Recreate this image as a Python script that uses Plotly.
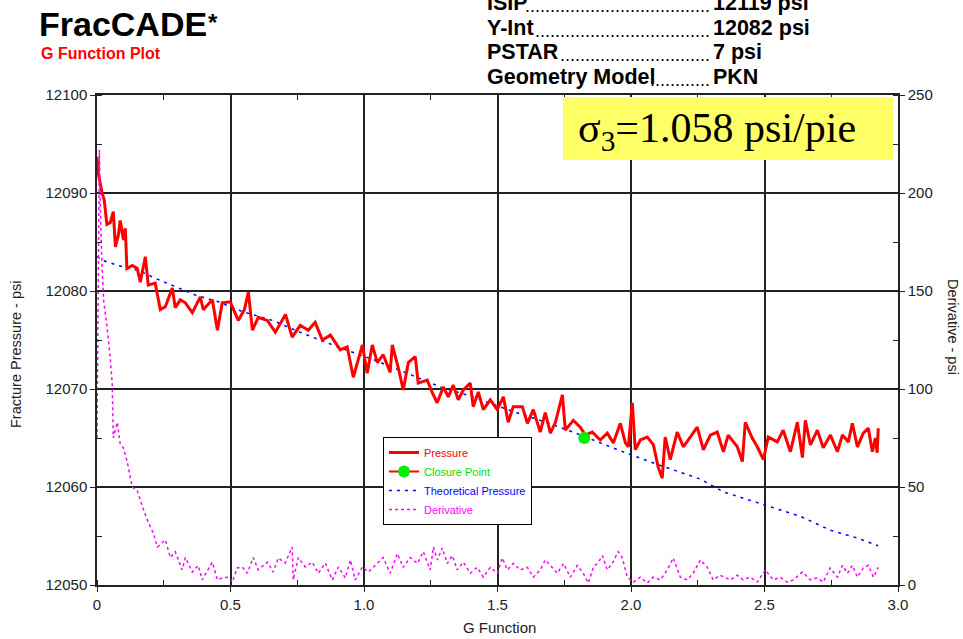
import plotly.graph_objects as go

# ---- data ----
pressure_g = [0.000,0.005,0.019,0.027,0.037,0.050,0.061,0.069,0.080,0.087,0.099,0.106,0.112,0.132,0.151,0.162,0.181,0.192,0.218,0.237,
              0.256,0.282,0.293,0.312,0.331,0.357,0.387,0.398,0.432,0.451,0.469,0.499,0.529,0.552,0.567,0.582,0.604,0.638,0.668,0.706,
              0.731,0.761,0.791,0.817,0.844,0.874,0.911,0.937,0.960,0.994,1.012,1.031,1.050,1.072,1.098,1.106,1.128,1.147,1.166,1.192,
              1.203,1.237,1.256,1.274,1.297,1.316,1.334,1.353,1.372,1.398,1.409,1.428,1.447,1.473,1.499,1.522,1.540,1.559,1.593,1.612,
              1.634,1.660,1.679,1.698,1.717,1.743,1.754,1.784,1.810,1.829,1.855,1.885,1.911,1.934,1.960,1.979,1.990,2.005,2.016,2.035,
              2.061,2.084,2.102,2.117,2.128,2.147,2.173,2.196,2.222,2.248,2.271,2.297,2.323,2.346,2.364,2.398,2.417,2.428,2.454,2.473,
              2.496,2.514,2.548,2.570,2.597,2.623,2.642,2.653,2.672,2.698,2.720,2.747,2.773,2.792,2.814,2.829,2.848,2.870,2.889,2.904,
              2.915,2.922,2.926]
pressure_psi = [12093.7,12092.0,12090.0,12089.3,12086.8,12087.0,12088.1,12084.5,12085.7,12087.2,12085.2,12086.4,12082.3,12082.6,12082.3,12080.9,12083.5,12080.6,12080.8,12078.1,
                12078.4,12080.3,12078.3,12079.1,12078.8,12077.8,12079.4,12078.1,12079.1,12076.0,12078.8,12078.9,12077.0,12078.1,12079.9,12076.0,12077.3,12077.0,12075.8,12077.6,
                12075.3,12076.5,12076.0,12076.8,12075.0,12075.5,12074.0,12074.3,12071.2,12074.5,12071.6,12074.5,12072.7,12073.5,12071.7,12074.5,12072.2,12069.9,12072.7,12073.3,
                12070.6,12070.9,12069.6,12068.6,12070.2,12069.2,12070.4,12068.9,12069.9,12070.6,12068.2,12069.7,12067.9,12068.9,12067.9,12069.2,12066.6,12068.2,12068.2,12066.5,
                12067.9,12065.6,12067.6,12065.5,12066.6,12069.4,12065.8,12066.8,12066.1,12065.3,12065.6,12064.8,12065.5,12064.5,12066.5,12064.5,12064.1,12068.6,12063.8,12064.8,
                12065.1,12064.3,12062.0,12060.9,12065.1,12062.8,12065.6,12064.1,12065.1,12066.1,12063.8,12065.3,12065.6,12063.6,12065.3,12064.1,12062.6,12066.6,12065.0,12064.1,
                12062.8,12065.1,12064.6,12065.8,12063.6,12066.6,12063.0,12066.8,12064.3,12065.8,12064.0,12065.3,12063.6,12065.3,12064.6,12066.5,12064.1,12065.5,12066.0,12063.6,
                12065.0,12063.5,12066.0]

closure_g = [1.825]
closure_psi = [12065.0]

theory_g = [0.000,0.024,0.080,0.155,0.218,0.282,0.368,0.454,0.544,0.657,0.769,0.911,1.035,1.162,1.286,1.409,1.537,1.660,1.784,1.885,
            1.998,2.110,2.260,2.346,2.500,2.635,2.746,2.847,2.926]
theory_psi = [12083.5,12083.1,12082.6,12082.1,12081.3,12080.6,12079.6,12078.9,12077.9,12077.0,12075.7,12074.2,12073.0,12071.6,12070.2,12069.2,12067.9,12066.8,12065.6,12064.5,
              12063.3,12062.2,12060.8,12059.5,12058.2,12057.0,12055.6,12054.8,12054.0]

deriv_g = [0.000,0.003,0.009,0.012,0.018,0.025,0.039,0.050,0.057,0.061,0.076,0.087,0.099,0.113,0.132,0.151,0.170,0.192,0.211,0.226,
           0.256,0.275,0.293,0.319,0.331,0.357,0.379,0.394,0.432,0.451,0.469,0.492,0.507,0.525,0.544,0.563,0.585,0.604,0.638,0.660,
           0.679,0.705,0.731,0.735,0.754,0.780,0.806,0.829,0.855,0.881,0.904,0.930,0.949,0.967,0.994,1.016,1.042,1.050,1.072,1.098,
           1.125,1.147,1.173,1.200,1.222,1.248,1.260,1.275,1.293,1.312,1.331,1.349,1.372,1.398,1.424,1.447,1.473,1.499,1.518,1.537,
           1.559,1.585,1.612,1.634,1.660,1.679,1.698,1.724,1.747,1.773,1.799,1.821,1.840,1.859,1.878,1.893,1.911,1.930,1.952,1.967,
           1.986,2.009,2.035,2.061,2.083,2.110,2.136,2.158,2.185,2.211,2.233,2.260,2.286,2.308,2.334,2.372,2.398,2.420,2.446,2.473,
           2.503,2.533,2.559,2.585,2.608,2.642,2.672,2.698,2.720,2.746,2.773,2.792,2.811,2.829,2.848,2.870,2.889,2.908,2.926]
deriv_psi = [75,140,222,195,165,145,130,115,103,75,83,72,70,63,50,48,40,32,26.5,19.4,
             23,14,17,7.7,14,6.6,10,2.6,11.7,2.6,3.6,4,1.5,8.7,9.2,6,14,7.7,11.7,6.6,
             13.8,11.2,19.4,2.6,14,9.2,11.7,6,11.2,2.6,9.2,3.6,12.8,2.6,9.2,6.6,10,11,14,6,
             16,9,14,11,17,7.7,19.4,12.8,18.9,11,15,7.7,11.7,6,9,4,9,6,13.8,7.7,
             11,7.7,9,4,7.7,12.8,10,6,11,4,10,6,1,9,11.7,15,7.7,11,17,14,
             4,1.5,4,1,4,2.6,7.7,13.8,4,2.6,6,12.8,9,2.6,5,2.6,5,2.6,4,1.5,
             7.7,2.6,4,1.5,2.6,6.6,2.6,3.6,1.5,8.7,4,10,6,10,4,8.7,10,4,9]

x_ticks = [0, 0.5, 1.0, 1.5, 2.0, 2.5, 3.0]
x_tick_text = ["0", "0.5", "1.0", "1.5", "2.0", "2.5", "3.0"]
left_ticks = [12050, 12060, 12070, 12080, 12090, 12100]
right_ticks = [0, 50, 100, 150, 200, 250]

info_labels = ["ISIP", "Y-Int", "PSTAR", "Geometry Model"]
info_values = ["12119 psi", "12082 psi", "7 psi", "PKN"]

# ---- geometry helpers (pixel -> paper) ----
L, R, T, B = 97, 65, 95, 54
W, H = 963, 639
PW, PH = W - L - R, H - T - B
def px(x):
    return (x - L) / PW
def py(y):
    return (H - B - y) / PH

FONT = "Arial, Liberation Sans, sans-serif"

fig = go.Figure()

fig.add_trace(go.Scatter(x=deriv_g, y=deriv_psi, yaxis="y2", mode="lines",
                         line=dict(color="#ff00ff", width=1.5, dash="3px,3px"),
                         name="<span style='color:#ff00ff'>Derivative</span>", legendrank=4))
fig.add_trace(go.Scatter(x=theory_g, y=theory_psi, mode="lines",
                         line=dict(color="#0000ff", width=1.5, dash="3px,5px"),
                         name="<span style='color:#0000ff'>Theoretical Pressure</span>", legendrank=3))
fig.add_trace(go.Scatter(x=pressure_g, y=pressure_psi, mode="lines",
                         line=dict(color="#ff0000", width=3),
                         name="<span style='color:#ff0000'>Pressure</span>", legendrank=1))
fig.add_trace(go.Scatter(x=closure_g, y=closure_psi, mode="lines+markers",
                         line=dict(color="#ff0000", width=2),
                         marker=dict(color="#00ee00", size=12, symbol="circle"),
                         name="<span style='color:#00dd00'>Closure Point</span>", legendrank=2))

# invisible trace to show the top axis
fig.add_trace(go.Scatter(x=[0, 3], y=[12100, 12100], xaxis="x2", mode="lines",
                         line=dict(width=0), showlegend=False, hoverinfo="skip"))

axis_font = dict(family=FONT, size=15, color="#222222")

fig.update_layout(
    width=W, height=H,
    margin=dict(l=L, r=R, t=T, b=B),
    paper_bgcolor="white", plot_bgcolor="white",
    font=axis_font,
    showlegend=True,
    legend=dict(x=px(383), y=py(437), xanchor="left", yanchor="top",
                bgcolor="white", bordercolor="black", borderwidth=1,
                font=dict(family=FONT, size=11),
                traceorder="normal", tracegroupgap=0, itemwidth=30),
    xaxis=dict(range=[0, 3], tickvals=x_ticks, ticktext=x_tick_text,
               showgrid=True, gridcolor="#222222", gridwidth=1.5,
               showline=True, linecolor="#222222", linewidth=1.5,
               ticks="outside", ticklen=5, tickcolor="#222222",
               minor=dict(dtick=0.25, ticks="inside", ticklen=5, tickcolor="#222222", showgrid=False),
               zeroline=False, tickfont=axis_font),
    xaxis2=dict(range=[0, 3], overlaying="x", side="top", showgrid=False,
                showline=True, linecolor="#222222", linewidth=1.5,
                tickvals=[0.25, 0.5, 0.75, 1.0, 1.25, 1.5, 1.75, 2.0, 2.25, 2.5, 2.75],
                ticks="inside", ticklen=5, tickcolor="#222222", showticklabels=False,
                zeroline=False),
    yaxis=dict(range=[12050, 12100], tickvals=left_ticks, tickformat="d",
               showgrid=True, gridcolor="#222222", gridwidth=1.5,
               showline=True, linecolor="#222222", linewidth=1.5,
               ticks="outside", ticklen=5, tickcolor="#222222",
               minor=dict(dtick=5, ticks="inside", ticklen=5, tickcolor="#222222", showgrid=False),
               zeroline=False, tickfont=axis_font),
    yaxis2=dict(range=[0, 250], tickvals=right_ticks, overlaying="y", side="right",
                showgrid=False, showline=True, linecolor="#222222", linewidth=1.5,
                ticks="outside", ticklen=5, tickcolor="#222222",
                minor=dict(dtick=25, ticks="inside", ticklen=5, tickcolor="#222222"),
                zeroline=False, tickfont=axis_font),
)

# yellow sigma box
fig.add_shape(type="rect", xref="paper", yref="paper",
              x0=px(563), x1=px(893), y0=py(160), y1=py(97),
              fillcolor="#ffff66", line=dict(width=0), layer="above")
fig.add_annotation(xref="paper", yref="paper", x=px(717), y=py(131),
                   text="σ<sub>3</sub>=1.058 psi/pie", showarrow=False,
                   font=dict(family="Liberation Serif, Times New Roman, serif", size=42, color="black"),
                   xanchor="center", yanchor="middle")

# axis titles
fig.add_annotation(xref="paper", yref="paper", x=px(499), y=py(627), text="G Function",
                   showarrow=False, font=dict(family=FONT, size=15, color="#222222"),
                   xanchor="center", yanchor="middle")
fig.add_annotation(xref="paper", yref="paper", x=px(16), y=py(355), text="Fracture Pressure - psi",
                   showarrow=False, textangle=-90,
                   font=dict(family=FONT, size=14.5, color="#222222"),
                   xanchor="center", yanchor="middle")
fig.add_annotation(xref="paper", yref="paper", x=px(953), y=py(327), text="Derivative - psi",
                   showarrow=False, textangle=90,
                   font=dict(family=FONT, size=14.5, color="#222222"),
                   xanchor="center", yanchor="middle")

# header
fig.add_annotation(xref="paper", yref="paper", x=px(37), y=py(24),
                   text="<b>FracCADE</b>",
                   showarrow=False, font=dict(family=FONT, size=34, color="black"),
                   xanchor="left", yanchor="middle")
fig.add_annotation(xref="paper", yref="paper", x=px(206), y=py(22),
                   text="<b>*</b>",
                   showarrow=False, font=dict(family=FONT, size=24, color="black"),
                   xanchor="left", yanchor="middle")
fig.add_annotation(xref="paper", yref="paper", x=px(39), y=py(53), text="<b>G Function Plot</b>",
                   showarrow=False, font=dict(family=FONT, size=16, color="#ff0000"),
                   xanchor="left", yanchor="middle")

row_y = [3, 28, 52, 77]
dot_counts = [37, 35, 30, 12]
for lab, val, yy, nd in zip(info_labels, info_values, row_y, dot_counts):
    fig.add_annotation(xref="paper", yref="paper", x=px(485), y=py(yy), text="<b>" + lab + "</b>",
                       showarrow=False, font=dict(family=FONT, size=21.5, color="black"),
                       xanchor="left", yanchor="middle")
    fig.add_annotation(xref="paper", yref="paper", x=px(712), y=py(yy + 3), text="." * nd,
                       showarrow=False, font=dict(family=FONT, size=18, color="black"),
                       xanchor="right", yanchor="middle")
    fig.add_annotation(xref="paper", yref="paper", x=px(711), y=py(yy), text="<b>" + val + "</b>",
                       showarrow=False, font=dict(family=FONT, size=21.5, color="black"),
                       xanchor="left", yanchor="middle")

fig.write_html("out.html", config={"displayModeBar": False},
               post_script="document.body.style.margin='0';document.body.style.overflow='hidden';")
